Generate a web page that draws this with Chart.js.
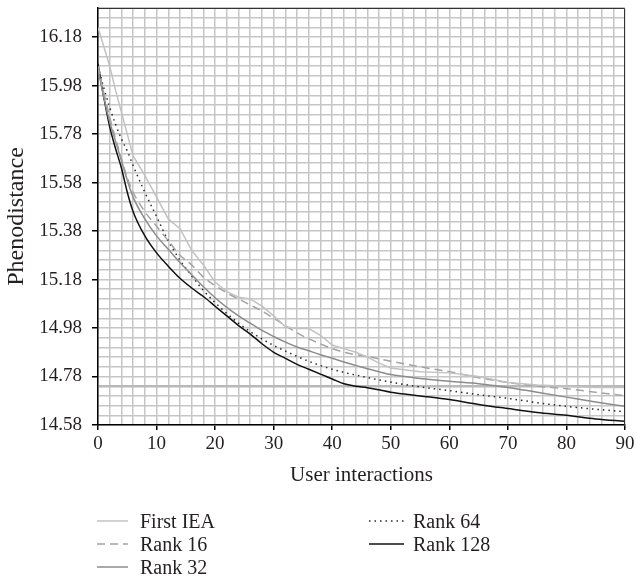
<!DOCTYPE html>
<html>
<head>
<meta charset="utf-8">
<title>Phenodistance</title>
<script src="https://cdn.jsdelivr.net/npm/chart.js@4.4.1/dist/chart.umd.min.js"></script>
<style>
    body { margin: 0; background: #fff; }
    #wrap { position: relative; width: 636px; height: 578px; }
    #legend { position: absolute; left: 0; top: 0; width: 636px; height: 578px; pointer-events: none; }
    .legend-item {
        position: absolute; display: flex; align-items: center; height: 24px; line-height: 24px;
        font-family: 'Liberation Serif', serif; font-size: 20px; color: #231f20; white-space: nowrap;
    }
    .legend-item svg { display: block; }
</style>
</head>
<body>
<div id="wrap">
    <canvas id="phenoChart" width="636" height="500"></canvas>
    <div id="legend"></div>
</div>
<script>
// Values
const interactions = [0, 1, 2, 3, 4, 5, 6, 8, 10, 12, 14, 16, 18, 20, 22, 24, 26, 28, 30, 32, 34, 36, 38, 40, 42, 44, 46, 48, 50, 55, 60, 65, 70, 75, 80, 85, 90];
const firstIEA = [16.22, 16.14, 16.06, 15.96, 15.87, 15.78, 15.69, 15.61, 15.52, 15.43, 15.39, 15.30, 15.24, 15.17, 15.13, 15.107, 15.10, 15.07, 15.03, 14.985, 14.978, 14.978, 14.95, 14.91, 14.895, 14.88, 14.86, 14.835, 14.815, 14.80, 14.795, 14.78, 14.755, 14.745, 14.74, 14.735, 14.735];
const rank16 = [16.06, 15.95, 15.85, 15.76, 15.68, 15.60, 15.54, 15.46, 15.40, 15.34, 15.28, 15.24, 15.19, 15.155, 15.125, 15.10, 15.075, 15.05, 15.02, 14.99, 14.96, 14.935, 14.915, 14.895, 14.88, 14.87, 14.863, 14.853, 14.843, 14.82, 14.80, 14.775, 14.755, 14.74, 14.73, 14.715, 14.70];
const rank32 = [16.05, 15.93, 15.83, 15.75, 15.67, 15.59, 15.52, 15.43, 15.36, 15.305, 15.25, 15.20, 15.15, 15.105, 15.065, 15.03, 15.0, 14.97, 14.945, 14.922, 14.902, 14.886, 14.87, 14.855, 14.84, 14.826, 14.812, 14.8, 14.788, 14.772, 14.76, 14.75, 14.735, 14.715, 14.695, 14.675, 14.657];
const rank64 = [16.06, 15.97, 15.89, 15.82, 15.76, 15.71, 15.65, 15.54, 15.44, 15.34, 15.26, 15.195, 15.135, 15.085, 15.04, 15.0, 14.965, 14.935, 14.908, 14.885, 14.863, 14.843, 14.825, 14.81, 14.797, 14.786, 14.776, 14.766, 14.757, 14.737, 14.722, 14.705, 14.69, 14.672, 14.657, 14.645, 14.635];
const rank128 = [16.07, 15.93, 15.81, 15.72, 15.64, 15.54, 15.46, 15.36, 15.29, 15.235, 15.185, 15.145, 15.11, 15.07, 15.03, 14.99, 14.955, 14.915, 14.88, 14.855, 14.83, 14.81, 14.79, 14.77, 14.75, 14.74, 14.734, 14.725, 14.715, 14.70, 14.685, 14.665, 14.648, 14.632, 14.62, 14.605, 14.595];

// axis setup: gridlines every 2 / 0.04, labels every 10 / 0.20
const xMin = 0, xMax = 90, xStep = 2, xLabelEvery = 10;
const yMin = 14.58, yMax = 16.30, yStep = 0.04, yLabelEvery = 5;
const yHighlight = 14.74;

const FONT = "'Liberation Serif', 'Times New Roman', serif";
const TEXT = '#231f20';
const GRID = '#c6c6c6';

function toPoints(ys) {
    return interactions.map((x, i) => ({ x: x, y: ys[i] }));
}

const series = [
    { label: 'First IEA', data: firstIEA, color: '#c2c2c2', dash: [], smooth: false },
    { label: 'Rank 16', data: rank16, color: '#a3a3a3', dash: [8, 5], smooth: true },
    { label: 'Rank 32', data: rank32, color: '#8c8c8c', dash: [], smooth: true },
    { label: 'Rank 64', data: rank64, color: '#2a2a2a', dash: [1.5, 4], smooth: true },
    { label: 'Rank 128', data: rank128, color: '#111111', dash: [], smooth: true }
];

// box round the plot (top and right edges)
const frame = {
    id: 'frame',
    afterDatasetsDraw(chart) {
        const { ctx, chartArea: a } = chart;
        ctx.save();
        ctx.strokeStyle = '#333';
        ctx.lineWidth = 1;
        ctx.beginPath();
        ctx.moveTo(a.left, a.top + 0.5);
        ctx.lineTo(a.right - 0.5, a.top + 0.5);
        ctx.lineTo(a.right - 0.5, a.bottom);
        ctx.stroke();
        ctx.restore();
    }
};

const chart = new Chart(document.getElementById('phenoChart'), {
    type: 'line',
    data: {
        datasets: series.map(s => ({
            label: s.label,
            data: toPoints(s.data),
            borderColor: s.color,
            borderDash: s.dash,
            borderWidth: 1.5,
            pointRadius: 0,
            fill: false,
            cubicInterpolationMode: s.smooth ? 'monotone' : 'default',
            tension: 0
        }))
    },
    options: {
        responsive: false,
        animation: false,
        layout: { padding: { top: 8, right: 11, left: 0, bottom: 0 } },
        plugins: {
            legend: { display: false },
            tooltip: { enabled: false }
        },
        scales: {
            x: {
                type: 'linear',
                min: xMin, max: xMax,
                afterFit: (scale) => {
                    scale.height = 75;
                    scale.paddingLeft = 0;
                    scale.paddingRight = 0;
                },
                border: { color: '#000', width: 1.5 },
                grid: {
                    color: GRID,
                    lineWidth: 1.5,
                    tickLength: 5,
                    tickColor: (c) => (c.tick && c.tick.value % xLabelEvery === 0 ? '#000' : 'rgba(0,0,0,0)'),
                    tickWidth: 1.5
                },
                ticks: {
                    stepSize: xStep,
                    autoSkip: false,
                    maxRotation: 0,
                    padding: 3,
                    color: TEXT,
                    font: { family: FONT, size: 19 },
                    callback: (v) => (v % xLabelEvery === 0 ? v : '')
                },
                title: {
                    display: true,
                    text: 'User interactions',
                    color: TEXT,
                    font: { family: FONT, size: 21 },
                    padding: { top: 0, bottom: 12 }
                }
            },
            y: {
                min: yMin, max: yMax,
                afterFit: (scale) => {
                    scale.width = 98;
                    scale.paddingTop = 0;
                    scale.paddingBottom = 0;
                },
                border: { color: '#000', width: 1.5 },
                grid: {
                    color: (c) => (c.tick && Math.abs(c.tick.value - yHighlight) < 1e-6 ? '#b9b9b9' : GRID),
                    lineWidth: (c) => (c.tick && Math.abs(c.tick.value - yHighlight) < 1e-6 ? 2.5 : 1.5),
                    tickLength: 6,
                    tickColor: (c) => (c.index % yLabelEvery === 0 && c.index < 41 ? '#000' : 'rgba(0,0,0,0)'),
                    tickWidth: 1.5
                },
                ticks: {
                    stepSize: yStep,
                    autoSkip: false,
                    padding: 10,
                    color: TEXT,
                    font: { family: FONT, size: 19 },
                    callback: (v, i) => (i % yLabelEvery === 0 && i < 41 ? v.toFixed(2) : '')
                },
                title: {
                    display: true,
                    text: 'Phenodistance',
                    color: TEXT,
                    font: { family: FONT, size: 24 },
                    padding: { top: 2, bottom: 0 }
                }
            }
        }
    },
    plugins: [frame]
});

// legend in two columns under the chart, built from the datasets
const legendSlots = [
    { left: 97, top: 509, line: 31, text: 140 },
    { left: 97, top: 532, line: 31, text: 140 },
    { left: 97, top: 555, line: 31, text: 140 },
    { left: 369, top: 509, line: 35, text: 413 },
    { left: 369, top: 532, line: 35, text: 413 }
];

const legendBox = document.getElementById('legend');
chart.data.datasets.forEach((ds, i) => {
    const slot = legendSlots[i];
    const item = document.createElement('div');
    item.className = 'legend-item';
    item.style.left = slot.left + 'px';
    item.style.top = slot.top + 'px';
    const gap = slot.text - slot.left - slot.line;
    item.innerHTML = `
        <svg width="${slot.line}" height="24" style="margin-right:${gap}px">
            <line x1="0" y1="12" x2="${slot.line}" y2="12" stroke="${ds.borderColor}"
                  stroke-width="1.5" stroke-dasharray="${ds.borderDash.join(' ') || 'none'}"/>
        </svg>
        <span>${ds.label}</span>`;
    legendBox.appendChild(item);
});
</script>
</body>
</html>
